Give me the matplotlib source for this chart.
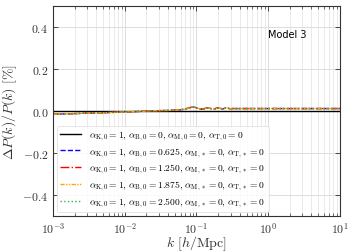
import math
import matplotlib
matplotlib.use("Agg")
import matplotlib.pyplot as plt
from matplotlib.ticker import FuncFormatter, LogLocator, NullFormatter

plt.rcParams['mathtext.fontset'] = 'cm'
plt.rcParams['font.family'] = ['DejaVu Sans']

k = [1e-3, 2e-3, 3e-3, 5e-3, 7e-3, 0.01, 0.015, 0.02, 0.03, 0.04, 0.05, 0.06,
     0.07, 0.08, 0.086, 0.095, 0.105, 0.118, 0.128, 0.139, 0.155, 0.171, 0.185,
     0.200, 0.215, 0.231, 0.247, 0.264, 0.28, 0.294, 0.32, 0.36, 0.4, 0.5, 0.7,
     1.0, 2.0, 5.0, 10.0]

ref = [0.0] * len(k)
s_b0625 = [-0.015, -0.012, -0.010, -0.008, -0.006, -0.004, -0.002, 0.000, 0.002, 0.003,
           0.004, 0.006, 0.010, 0.016, 0.019, 0.018, 0.013, 0.009, 0.011, 0.016, 0.013,
           0.009, 0.012, 0.016, 0.013, 0.010, 0.013, 0.015, 0.013, 0.011, 0.012, 0.012,
           0.012, 0.012, 0.012, 0.012, 0.012, 0.012, 0.012]
s_b1250 = [-0.015, -0.012, -0.010, -0.008, -0.006, -0.004, -0.002, 0.000, 0.002, 0.003,
           0.004, 0.006, 0.010, 0.016, 0.019, 0.018, 0.013, 0.009, 0.011, 0.016, 0.013,
           0.009, 0.012, 0.016, 0.013, 0.010, 0.013, 0.015, 0.013, 0.011, 0.012, 0.012,
           0.012, 0.012, 0.012, 0.012, 0.012, 0.012, 0.012]
s_b1875 = [-0.015, -0.012, -0.010, -0.008, -0.006, -0.004, -0.002, 0.000, 0.002, 0.003,
           0.004, 0.006, 0.010, 0.016, 0.019, 0.018, 0.013, 0.009, 0.011, 0.016, 0.013,
           0.009, 0.012, 0.016, 0.013, 0.010, 0.013, 0.015, 0.013, 0.011, 0.012, 0.012,
           0.012, 0.012, 0.012, 0.012, 0.012, 0.012, 0.012]
s_b2500 = [-0.015, -0.012, -0.010, -0.008, -0.006, -0.004, -0.002, 0.000, 0.002, 0.003,
           0.004, 0.006, 0.010, 0.016, 0.019, 0.018, 0.013, 0.009, 0.011, 0.016, 0.013,
           0.009, 0.012, 0.016, 0.013, 0.010, 0.013, 0.015, 0.013, 0.011, 0.012, 0.012,
           0.012, 0.012, 0.012, 0.012, 0.012, 0.012, 0.012]

labels = [
    r'$\alpha_{\rm K,0}=1,\,\alpha_{\rm B,0}=0,\,\alpha_{\rm M,0}=0,\,\alpha_{\rm T,0}=0$',
    r'$\alpha_{\rm K,0}=1,\,\alpha_{\rm B,0}=0.625,\,\alpha_{\rm M,\ast}=0,\,\alpha_{\rm T,\ast}=0$',
    r'$\alpha_{\rm K,0}=1,\,\alpha_{\rm B,0}=1.250,\,\alpha_{\rm M,\ast}=0,\,\alpha_{\rm T,\ast}=0$',
    r'$\alpha_{\rm K,0}=1,\,\alpha_{\rm B,0}=1.875,\,\alpha_{\rm M,\ast}=0,\,\alpha_{\rm T,\ast}=0$',
    r'$\alpha_{\rm K,0}=1,\,\alpha_{\rm B,0}=2.500,\,\alpha_{\rm M,\ast}=0,\,\alpha_{\rm T,\ast}=0$',
]
series = [ref, s_b0625, s_b1250, s_b1875, s_b2500]
colors = ['black', 'blue', 'red', 'orange', '#3cb043']
styles = ['-', '--', '-.', (0, (3, 1, 1, 1, 1, 1)), ':']

fig = plt.figure(figsize=(3.54, 2.53), dpi=100)
ax = fig.add_axes([0.150, 0.142, 0.810, 0.830])

for y, c, ls, lab in zip(series, colors, styles, labels):
    ax.plot(k, y, color=c, ls=ls, lw=1.0, label=lab)

ax.set_xscale('log')
ax.set_xlim(1e-3, 10)
ax.set_ylim(-0.5, 0.5)
ax.set_yticks([-0.4, -0.2, 0.0, 0.2, 0.4])
ax.yaxis.set_major_formatter(FuncFormatter(lambda v, p: r'$%.1f$' % v))
ax.xaxis.set_major_locator(LogLocator(base=10, numticks=10))
ax.xaxis.set_major_formatter(FuncFormatter(lambda v, p: r'$10^{%d}$' % round(math.log10(v))))
ax.xaxis.set_minor_locator(LogLocator(base=10, subs=range(2, 10), numticks=20))
ax.xaxis.set_minor_formatter(NullFormatter())

ax.grid(True, which='major', color='#dcdcdc', lw=0.7)
ax.grid(True, which='minor', color='#e6e6e6', lw=0.6)
ax.set_axisbelow(True)
ax.tick_params(which='both', direction='in', top=True, right=True, labelsize=8.5, colors='#333333',
               labelcolor='#333333')
ax.tick_params(which='major', length=3.5, width=0.6)
ax.tick_params(which='minor', length=2, width=0.5)
ax.tick_params(axis='x', which='major', pad=3)
for sp in ax.spines.values():
    sp.set_color('#333333')
    sp.set_linewidth(0.8)

ax.set_xlabel(r'$k\ [h/{\rm Mpc}]$', fontsize=10, labelpad=-1, color='#333333')
ax.set_ylabel(r'$\Delta P(k)/P(k)\ [\%]$', fontsize=10, labelpad=2, color='#333333')

ax.text(0.815, 0.865, 'Model 3', transform=ax.transAxes, fontsize=7, ha='center', va='center')

leg = ax.legend(loc='lower left', fontsize=6.9, frameon=True, framealpha=0.85,
                edgecolor='#dddddd', handlelength=2.2, borderaxespad=0.4,
                labelspacing=0.3, handletextpad=0.8, borderpad=0.35)
leg.get_frame().set_linewidth(0.6)

fig.savefig('out.png', dpi=100)
